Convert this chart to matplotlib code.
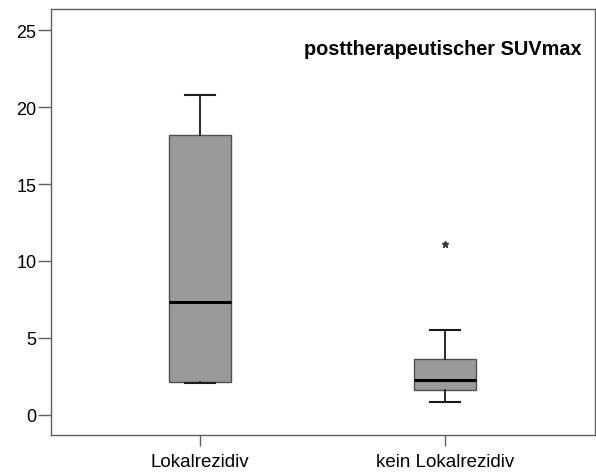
import matplotlib
matplotlib.use("Agg")
import matplotlib.pyplot as plt

categories = ["Lokalrezidiv", "kein Lokalrezidiv"]
whislo = [2.05, 0.82]
q1 = [2.12, 1.6]
med = [7.3, 2.25]
q3 = [18.2, 3.6]
whishi = [20.8, 5.52]
fliers = [[], [11.1]]
yticks = [0, 5, 10, 15, 20, 25]
title = "posttherapeutischer SUVmax"

plt.rcParams['font.family'] = ['Liberation Sans', 'DejaVu Sans']

fig = plt.figure(figsize=(5.96, 4.77), dpi=100)
ax = fig.add_axes([51/596, 1-436/477, (595-51)/596, (436-10)/477])

stats = []
for i in range(len(categories)):
    stats.append(dict(whislo=whislo[i], q1=q1[i], med=med[i], q3=q3[i],
                      whishi=whishi[i], fliers=fliers[i], label=categories[i]))

ax.bxp(stats, positions=[1, 2], widths=0.253, capwidths=0.122, patch_artist=True,
       boxprops=dict(facecolor="#9a9a9a", edgecolor="#505050", linewidth=1.0),
       medianprops=dict(color="black", linewidth=2.2),
       whiskerprops=dict(color="#1a1a1a", linewidth=1.3),
       capprops=dict(color="#1a1a1a", linewidth=1.5),
       flierprops=dict(marker="*", markersize=5, markerfacecolor="#333333",
                       markeredgecolor="#333333", linestyle="none"))

ax.set_xlim(0.392, 2.612)
ax.set_ylim(-1.32, 26.38)
ax.set_yticks(yticks)
ax.set_yticklabels([str(t) for t in yticks])
ax.set_xticks([1, 2])
ax.set_xticklabels(categories)
for sp in ax.spines.values():
    sp.set_color("#606060")
    sp.set_linewidth(1.0)
ax.tick_params(axis="y", length=9.5, width=1.0, color="#606060", labelsize=13, pad=1)
ax.tick_params(axis="x", length=8, width=1.0, color="#606060", labelsize=13.5, pad=5)

ax.text(0.975, 0.908, title, transform=ax.transAxes, ha="right", va="center",
        fontsize=14.3, fontweight="bold")

fig.savefig("out.png", dpi=100)
